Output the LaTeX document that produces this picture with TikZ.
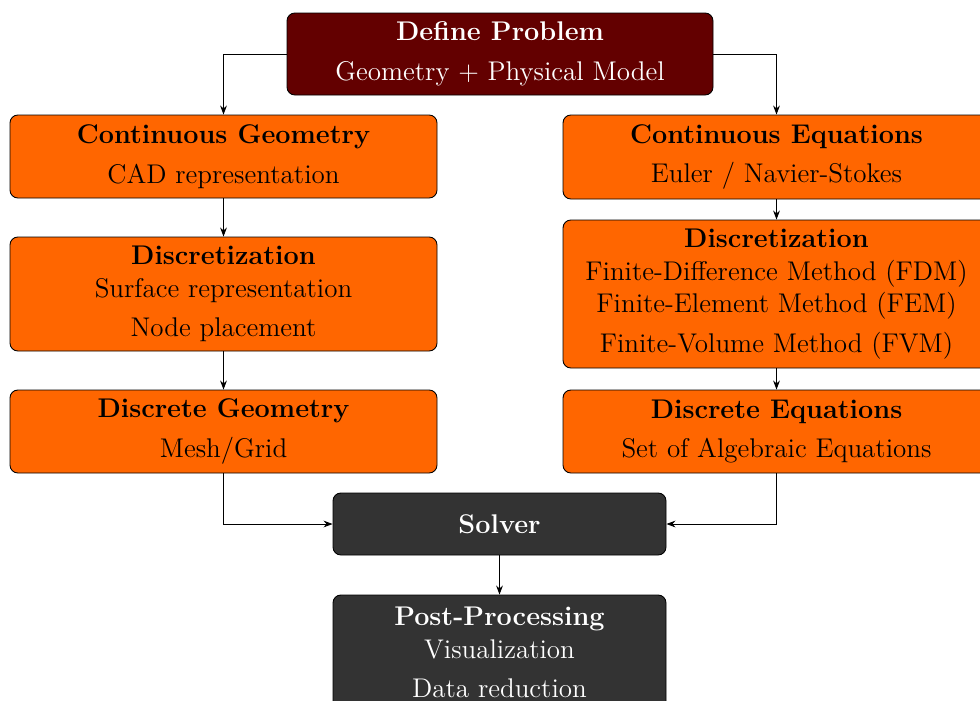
\documentclass[tikz,border=0pt]{standalone}
\usetikzlibrary{arrows.meta}
\definecolor{boxorange}{RGB}{255,102,0}
\definecolor{boxred}{RGB}{99,0,0}
\definecolor{boxgrey}{RGB}{51,51,51}
\def\px{0.444pt}
\tikzset{
  base/.style={draw=black, line width=0.4pt, rounded corners=3.5pt, inner sep=0pt, align=center,
    font=\fontsize{12}{14.5}\selectfont},
  obox/.style={base, fill=boxorange, text=black, minimum width=427*\px},
  rbox/.style={base, fill=boxred, text=white, minimum width=426*\px},
  gbox/.style={base, fill=boxgrey, text=white, minimum width=333*\px},
  conn/.style={draw=black, line width=0.4pt, -{Stealth[length=4pt,width=3pt]}}
}
\begin{document}
\begin{tikzpicture}[x=\px, y=-\px]
\useasboundingbox (0,0) rectangle (980,700);
\clip (0,0) rectangle (980,700);
\node[rbox, minimum height=82*\px] (dp) at (500,54) {\textbf{Define Problem}\\[3pt] Geometry + Physical Model};
\node[obox, minimum height=83*\px] (cg) at (223.5,156.5) {\textbf{Continuous Geometry}\\[3pt] CAD representation};
\node[obox, minimum height=84*\px] (ce) at (776.5,157) {\textbf{Continuous Equations}\\[3pt] Euler / Navier-Stokes};
\node[obox, minimum height=114*\px] (dl) at (223.5,294) {\textbf{Discretization}\\ Surface representation\\[3pt] Node placement};
\node[obox, minimum height=148*\px] (dr) at (776.5,294) {\textbf{Discretization}\\ Finite-Difference Method (FDM)\\ Finite-Element Method (FEM)\\[3pt] Finite-Volume Method (FVM)};
\node[obox, minimum height=83*\px] (dg) at (223.5,431.5) {\textbf{Discrete Geometry}\\[3pt] Mesh/Grid};
\node[obox, minimum height=83*\px] (de) at (776.5,431.5) {\textbf{Discrete Equations}\\[3pt] Set of Algebraic Equations};
\node[gbox, minimum height=62*\px] (sv) at (499.5,524) {\textbf{Solver}};
\node[gbox, minimum height=115*\px] (pp) at (499.5,652.5) {\textbf{Post-Processing}\\ Visualization\\[3pt] Data reduction};
\draw[conn] (dp.west) -| (cg.north);
\draw[conn] (dp.east) -| (ce.north);
\draw[conn] (cg.south) -- (dl.north);
\draw[conn] (dl.south) -- (dg.north);
\draw[conn] (ce.south) -- (dr.north);
\draw[conn] (dr.south) -- (de.north);
\draw[conn] (dg.south) |- (sv.west);
\draw[conn] (de.south) |- (sv.east);
\draw[conn] (sv.south) -- (pp.north);
\end{tikzpicture}
\end{document}
